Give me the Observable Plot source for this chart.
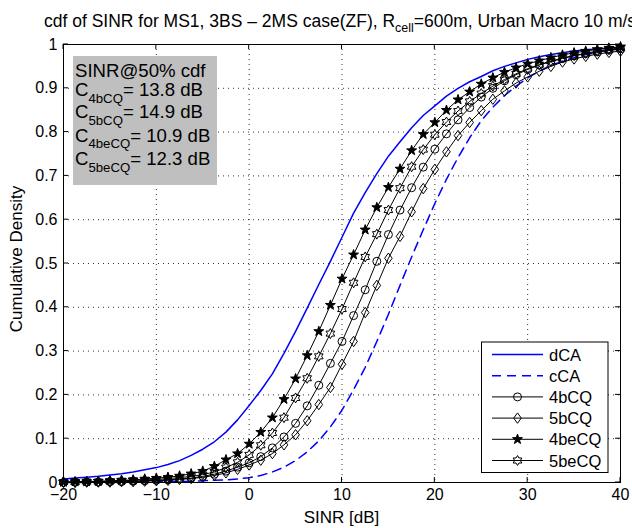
<!DOCTYPE html>
<html><head><meta charset="utf-8">
<script src="https://cdn.jsdelivr.net/npm/d3@7"></script>
<script src="https://cdn.jsdelivr.net/npm/@observablehq/plot@0.6"></script>
<style>body{margin:0;background:#fff;} #chart{width:632px;height:528px;}</style>
</head><body><div id="chart"></div>
<script>
// ---- data ----
const sinrDb = [-20,-18.75,-17.5,-16.25,-15,-13.75,-12.5,-11.25,-10,-8.75,-7.5,-6.25,-5,-3.75,-2.5,-1.25,0,1.25,2.5,3.75,5,6.25,7.5,8.75,10,11.25,12.5,13.75,15,16.25,17.5,18.75,20,21.25,22.5,23.75,25,26.25,27.5,28.75,30,31.25,32.5,33.75,35,36.25,37.5,38.75,40];
const cdf_dCA = [0.008,0.010,0.012,0.014,0.017,0.020,0.024,0.029,0.034,0.041,0.050,0.062,0.076,0.093,0.115,0.143,0.176,0.210,0.248,0.295,0.345,0.398,0.452,0.505,0.560,0.615,0.662,0.705,0.745,0.778,0.810,0.838,0.860,0.882,0.900,0.915,0.927,0.940,0.950,0.958,0.966,0.972,0.977,0.981,0.985,0.988,0.990,0.992,0.994];
const cdf_cCA = [0,0,0,0,0,0.001,0.001,0.001,0.001,0.002,0.002,0.003,0.004,0.005,0.006,0.008,0.011,0.016,0.024,0.035,0.050,0.070,0.095,0.127,0.165,0.212,0.263,0.322,0.384,0.450,0.515,0.577,0.637,0.692,0.742,0.787,0.826,0.857,0.883,0.905,0.924,0.939,0.952,0.962,0.970,0.977,0.982,0.987,0.990];
const cdf_4bCQ = [0,0.001,0.001,0.001,0.002,0.002,0.003,0.004,0.005,0.006,0.008,0.010,0.014,0.019,0.026,0.035,0.045,0.059,0.079,0.104,0.135,0.175,0.222,0.272,0.322,0.381,0.440,0.505,0.566,0.622,0.673,0.720,0.761,0.796,0.828,0.856,0.880,0.900,0.917,0.931,0.943,0.953,0.961,0.968,0.974,0.979,0.983,0.987,0.990];
const cdf_5bCQ = [0,0,0.001,0.001,0.001,0.002,0.002,0.003,0.004,0.005,0.007,0.009,0.012,0.016,0.022,0.030,0.040,0.051,0.066,0.086,0.109,0.141,0.178,0.217,0.270,0.322,0.388,0.450,0.512,0.562,0.618,0.671,0.715,0.755,0.792,0.822,0.849,0.875,0.894,0.912,0.926,0.939,0.950,0.960,0.967,0.973,0.978,0.982,0.985];
const cdf_4beCQ = [0.001,0.002,0.002,0.003,0.004,0.005,0.006,0.008,0.010,0.012,0.015,0.020,0.026,0.037,0.052,0.066,0.088,0.115,0.148,0.190,0.237,0.290,0.345,0.405,0.465,0.520,0.577,0.628,0.674,0.716,0.758,0.795,0.822,0.850,0.874,0.892,0.910,0.924,0.937,0.947,0.956,0.963,0.970,0.976,0.981,0.985,0.989,0.992,0.995];
const cdf_5beCQ = [0.001,0.001,0.002,0.002,0.003,0.004,0.005,0.006,0.007,0.009,0.011,0.014,0.018,0.024,0.034,0.046,0.063,0.085,0.113,0.148,0.193,0.238,0.288,0.340,0.396,0.456,0.515,0.567,0.622,0.672,0.721,0.760,0.794,0.823,0.848,0.870,0.888,0.905,0.920,0.933,0.945,0.954,0.962,0.969,0.975,0.980,0.985,0.989,0.992];
const xTicks = [-20,-10,0,10,20,30,40];
const yTicks = [0,0.1,0.2,0.3,0.4,0.5,0.6,0.7,0.8,0.9,1];
const seriesNames = ["dCA","cCA","4bCQ","5bCQ","4beCQ","5beCQ"];
const medianLabels = ["4bCQ","5bCQ","4beCQ","5beCQ"];
const medianValues = ["13.8","14.9","10.9","12.3"];
const titleMain = "cdf of SINR for MS1, 3BS \u2013 2MS case(ZF), R";
const titleSub = "cell";
const titleEnd = "=600m, Urban Macro 10 m/s";
const xLabel = "SINR [dB]";
const yLabel = "Cumulative Density";

// ---- marker shapes ----
const diamondSym = {draw(ctx, size){const r=Math.sqrt(size/Math.PI);const h=r*1.3,w=r*0.95;ctx.moveTo(0,-h);ctx.lineTo(w,0);ctx.lineTo(0,h);ctx.lineTo(-w,0);ctx.closePath();}};
const pentSym = {draw(ctx, size){const r=Math.sqrt(size/Math.PI);const R=r*1.3,ri=R*0.4;for(let i=0;i<10;i++){const a=-Math.PI/2+i*Math.PI/5,rr=i%2?ri:R;const px=rr*Math.cos(a),py=rr*Math.sin(a);if(i)ctx.lineTo(px,py);else ctx.moveTo(px,py);}ctx.closePath();}};
const hexSym = {draw(ctx, size){const r=Math.sqrt(size/Math.PI);const R=r*1.25,ri=R/Math.sqrt(3);for(let i=0;i<12;i++){const a=-Math.PI/2+i*Math.PI/6,rr=i%2?ri:R;const px=rr*Math.cos(a),py=rr*Math.sin(a);if(i)ctx.lineTo(px,py);else ctx.moveTo(px,py);}ctx.closePath();}};

const rows = ys => sinrDb.map((x,i)=>({x, y: ys[i]}));
const d_dCA = rows(cdf_dCA), d_cCA = rows(cdf_cCA), d_4b = rows(cdf_4bCQ), d_5b = rows(cdf_5bCQ), d_4be = rows(cdf_4beCQ), d_5be = rows(cdf_5beCQ);

const FONT = "'Liberation Sans', Arial, Helvetica, sans-serif";
const gridStyle = {stroke:"#333", strokeOpacity:1, strokeWidth:1, strokeDasharray:"1,4"};
const R = 4;

const plot = Plot.plot({
  width: 632, height: 528,
  marginLeft: 63, marginRight: 12, marginTop: 44, marginBottom: 46,
  style: {fontFamily: FONT, fontSize: "16px", color: "#000", background: "#fff"},
  x: {domain: [-20, 40]},
  y: {domain: [0, 1]},
  marks: [
    Plot.gridX(xTicks, gridStyle),
    Plot.gridY(yTicks, gridStyle),
    Plot.axisX(xTicks, {tickSize: 0, tickPadding: 6, label: null, fontSize: 16}),
    Plot.axisY(yTicks, {tickSize: 0, tickPadding: 6, label: null, fontSize: 16, tickFormat: d => String(+d.toFixed(1))}),
    Plot.line(d_dCA, {x:"x", y:"y", stroke:"#0000ff", strokeWidth:1.5}),
    Plot.line(d_cCA, {x:"x", y:"y", stroke:"#0000ff", strokeWidth:1.5, strokeDasharray:"9,6"}),
    Plot.line(d_4b, {x:"x", y:"y", stroke:"#000", strokeWidth:1}),
    Plot.dot(d_4b, {x:"x", y:"y", r:R, symbol:"circle", stroke:"#000", fill:"none", strokeWidth:1}),
    Plot.line(d_5b, {x:"x", y:"y", stroke:"#000", strokeWidth:1}),
    Plot.dot(d_5b, {x:"x", y:"y", r:R, symbol:diamondSym, stroke:"#000", fill:"none", strokeWidth:1}),
    Plot.line(d_4be, {x:"x", y:"y", stroke:"#000", strokeWidth:1}),
    Plot.dot(d_4be, {x:"x", y:"y", r:R, symbol:pentSym, stroke:"#000", fill:"#000", strokeWidth:1}),
    Plot.line(d_5be, {x:"x", y:"y", stroke:"#000", strokeWidth:1}),
    Plot.dot(d_5be, {x:"x", y:"y", r:R, symbol:hexSym, stroke:"#000", fill:"none", strokeWidth:1}),
    Plot.frame({stroke:"#000", strokeWidth:1})
  ]
});
document.getElementById("chart").appendChild(plot);

// ---- decorations: inward ticks, labels, title, annotation box, legend ----
const svg = d3.select(plot);
const sx = plot.scale("x"), sy = plot.scale("y");
const X0 = sx.apply(-20), X1 = sx.apply(40), Y0 = sy.apply(0), Y1 = sy.apply(1);
const tk = svg.append("g").attr("stroke","#000").attr("stroke-width",1);
xTicks.forEach(v => {
  const px = sx.apply(v);
  tk.append("line").attr("x1",px).attr("x2",px).attr("y1",Y0).attr("y2",Y0-5);
  tk.append("line").attr("x1",px).attr("x2",px).attr("y1",Y1).attr("y2",Y1+5);
});
yTicks.forEach(v => {
  const py = sy.apply(v);
  tk.append("line").attr("x1",X0).attr("x2",X0+5).attr("y1",py).attr("y2",py);
  tk.append("line").attr("x1",X1).attr("x2",X1-5).attr("y1",py).attr("y2",py);
});

const deco = svg.append("g").attr("font-family",FONT).attr("fill","#000").attr("text-anchor","start");

// axis labels
deco.append("text").attr("text-anchor","middle").attr("transform",`translate(${(X0+X1)/2},${Y0+41})`).attr("font-size",17).text(xLabel);
deco.append("text").attr("text-anchor","middle").attr("transform",`translate(22,${(Y0+Y1)/2 - 4}) rotate(-90)`).attr("font-size",17).text(yLabel);

// title
const t = deco.append("text").attr("x",44).attr("y",26.5).attr("font-size",17.5);
t.append("tspan").text(titleMain);
t.append("tspan").attr("font-size",12.5).attr("dy",5).text(titleSub);
t.append("tspan").attr("font-size",17.5).attr("dy",-5).text(titleEnd);

// annotation box
deco.append("rect").attr("x",73).attr("y",56).attr("width",144).attr("height",129).attr("fill","#bfbfbf");
deco.append("text").attr("x",75).attr("y",77).attr("font-size",18.6).text("SINR@50% cdf");
const annY = [96, 118, 141.5, 165];
medianLabels.forEach((lab,i) => {
  const tx = deco.append("text").attr("x",75).attr("y",annY[i]).attr("font-size",18.6);
  tx.append("tspan").text("C");
  tx.append("tspan").attr("font-size",13.2).attr("dy",6.5).text(lab);
  tx.append("tspan").attr("dy",-6.5).text("= " + medianValues[i] + " dB");
});

// legend
deco.append("rect").attr("x",481.5).attr("y",342).attr("width",126.5).attr("height",130.5).attr("fill","#fff").attr("stroke","#000").attr("stroke-width",1);
const legSyms = [null, null, d3.symbolCircle, diamondSym, pentSym, hexSym];
const legFill = ["none","none","none","none","#000","none"];
seriesNames.forEach((name,i) => {
  const ly = 354.5 + i*21.2;
  const blue = i < 2;
  deco.append("line").attr("x1",492).attr("x2",543).attr("y1",ly).attr("y2",ly)
    .attr("stroke", blue ? "#0000ff" : "#000").attr("stroke-width", blue ? 1.5 : 1)
    .attr("stroke-dasharray", i === 1 ? "9,6" : null);
  if (legSyms[i]) {
    deco.append("path").attr("d", d3.symbol().type(legSyms[i]).size(Math.PI*R*R)())
      .attr("transform", `translate(517.5,${ly})`).attr("stroke","#000").attr("fill",legFill[i]).attr("stroke-width",1);
  }
  deco.append("text").attr("x",549).attr("y",ly+6).attr("font-size",16.5).text(name);
});
</script>
</body></html>
